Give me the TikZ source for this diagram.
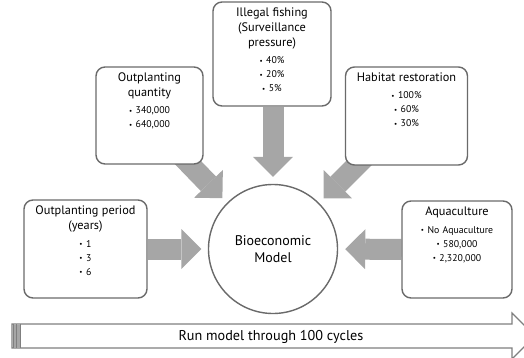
\documentclass[tikz,border=0pt]{standalone}
\usepackage{fontspec}
\setmainfont{PT Sans}
\usetikzlibrary{arrows.meta,backgrounds,calc}
\definecolor{boxline}{HTML}{6A6A6A}
\definecolor{arrowgray}{HTML}{A6A6A6}
\definecolor{runline}{HTML}{7F7F7F}
\newcommand\mybul{{\fontsize{7}{7}\selectfont\raisebox{0.8pt}{\textbullet}}\hspace{3.5pt}}
\newcommand\ttl[1]{{\fontsize{12.3}{15}\selectfont\rule{0pt}{10.5pt}#1\par}\vspace{3.5pt}}
\newcommand\bls[1]{{\fontsize{9.8}{14}\selectfont #1\par}}
\tikzset{
  box/.style={draw=boxline, line width=1.4pt, rounded corners=9pt, fill=white, inner sep=0pt},
  boxshadow/.style={draw=black!25, line width=1.4pt, rounded corners=9pt, inner sep=0pt},
  boxtext/.style={anchor=north, inner sep=0pt, align=center, text width=#1},
  fat/.style={draw=arrowgray, line width=21pt,
    -{Triangle[width=40pt,length=20pt,line width=0pt]}},
  runarrow/.style={draw=runline, fill=white, line width=1.2pt}
}
\begin{document}
\begin{tikzpicture}[x=1pt,y=-1pt]
\useasboundingbox (0,0) rectangle (524,358);
\clip (0,0) rectangle (524,358);
% boxes
\node[box, minimum width=123pt, minimum height=98pt] (period) at (85.5,249) {};
\node[box, minimum width=107pt, minimum height=97pt] (quantity) at (149.5,115.5) {};
\node[box, minimum width=118pt, minimum height=104pt] (fishing) at (272,54) {};
\node[box, minimum width=122pt, minimum height=98pt] (habitat) at (406.5,116) {};
\node[box, minimum width=110pt, minimum height=97pt] (aqua) at (457,249.5) {};
\node[draw=boxline, line width=1.4pt, circle, fill=white, minimum size=129pt, inner sep=0pt,
  font=\fontsize{14}{17}\selectfont, align=center] (model) at (273,249) {Bioeconomic\\Model};
% texts
\node[boxtext=120pt, yshift=-4.5pt] (periodtxt) at (period.north)
  {\ttl{Outplanting period\\(years)}\bls{\mybul 1\\\mybul 3\\\mybul 6}};
\node[boxtext=104pt, yshift=-4.5pt] (quantitytxt) at (quantity.north)
  {\ttl{Outplanting\\quantity}\bls{\mybul 340,000\\\mybul 640,000}};
\node[boxtext=114pt, yshift=-4.5pt] (fishingtxt) at (fishing.north)
  {\ttl{Illegal fishing\\(Surveillance\\pressure)}\bls{\mybul 40\%\\\mybul 20\%\\\mybul 5\%}};
\node[boxtext=120pt, yshift=-4.5pt] (habitattxt) at (habitat.north)
  {\ttl{Habitat restoration}\bls{\mybul 100\%\\\mybul 60\%\\\mybul 30\%}};
\node[boxtext=108pt, yshift=-4.5pt] (aquatxt) at (aqua.north)
  {\ttl{Aquaculture}\bls{\mybul No Aquaculture\\\mybul 580,000\\\mybul 2,320,000}};
% arrows
\coordinate (qstart) at (170,144);
\coordinate (hstart) at (372,150);
\begin{scope}[on background layer]
  \draw[fat, shorten >=6.5pt] (period.east) -- (model.west);
  \draw[fat, shorten >=7pt] (aqua.west) -- (model.east);
  \draw[fat, shorten >=7pt] (fishing.south -| model.north) -- (model.north);
  \draw[fat, shorten >=6.5pt] (qstart) -- (model.135);
  \draw[fat, shorten >=6.5pt] (hstart) -- (model.45);
\end{scope}
% bottom run arrow
\draw[runarrow] (12,324) -- (512,324) -- (512,313) -- (535,336) -- (512,359) -- (512,348) -- (12,348) -- cycle;
\fill[arrowgray] (12.5,324.5) rectangle (20,347.5);
\draw[runline, line width=1pt] (13,324) -- (13,348) (16.5,324) -- (16.5,348) (20,324) -- (20,348);
\node[font=\fontsize{14.2}{16}\selectfont, inner sep=0pt] (run) at (271,336.5) {Run model through 100 cycles};
\end{tikzpicture}
\end{document}
